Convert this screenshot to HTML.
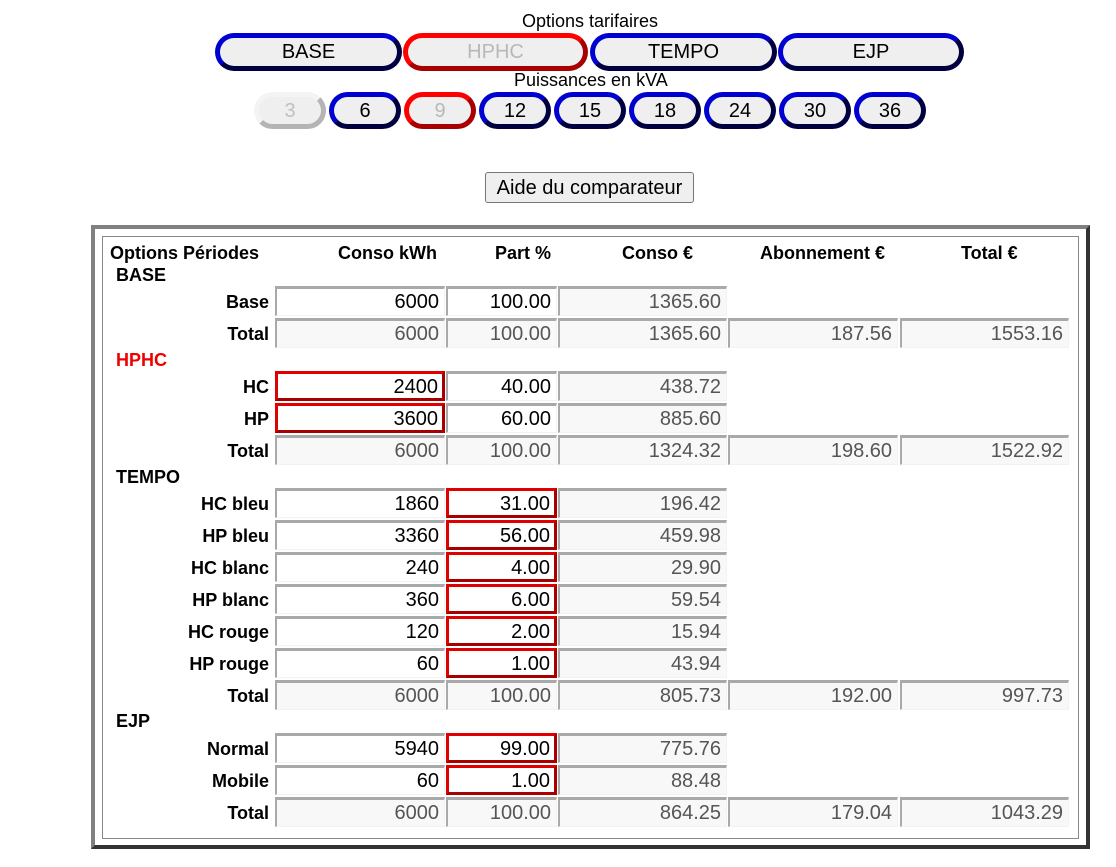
<!DOCTYPE html>
<html><head><meta charset="utf-8">
<style>
html,body{margin:0;padding:0;background:#fff;width:1116px;height:867px;overflow:hidden;position:relative;font-family:"Liberation Sans",Arial,sans-serif;}
.a{position:absolute;}
.lbl{position:absolute;font-size:18px;line-height:20px;color:#000;white-space:nowrap;}
.btn{position:absolute;box-sizing:border-box;background:#efefef;border:5px solid;border-color:#0000d0 #000040 #000040 #0000d0;border-radius:22px;font-size:20px;color:#000;text-align:center;white-space:nowrap;}
.b1{top:33px;height:38px;line-height:29px;}
.b2{top:92px;height:37px;line-height:28px;width:72px;}
.red{border-color:#ff0000 #a80000 #a80000 #ff0000;color:#b8b8b8;}
.dis{border-color:#f4f4f4 #b4b4b4 #b4b4b4 #f4f4f4;color:#c0c0c0;}
.h{position:absolute;font-weight:bold;font-size:18px;line-height:20px;white-space:nowrap;}
.rl{position:absolute;font-weight:bold;font-size:18px;line-height:20px;right:847px;text-align:right;white-space:nowrap;margin-top:1px;}
.in{position:absolute;box-sizing:border-box;height:30px;border-style:solid;border-width:3px 1px 1px 2px;border-color:#a9a9a9 #f2f2f2 #f2f2f2 #a9a9a9;background:#fff;color:#000;font-size:20px;line-height:27px;text-align:right;padding-right:5px;white-space:nowrap;}
.ro{background:#f8f8f8;color:#555;}
.rd{border-width:3px;border-color:#e00000 #a80000 #a80000 #e00000;line-height:26px;padding-right:4px;}
.c1{left:275px;width:170px;}
.c2{left:446px;width:111px;}
.c3{left:558px;width:169px;}
.c4{left:728px;width:170px;}
.c5{left:900px;width:169px;}
</style></head><body>

<div class="lbl" style="left:522px;top:11px;">Options tarifaires</div>
<div class="btn b1" style="left:215px;width:187px;">BASE</div>
<div class="btn b1 red" style="left:403px;width:185px;">HPHC</div>
<div class="btn b1" style="left:590px;width:187px;">TEMPO</div>
<div class="btn b1" style="left:778px;width:186px;">EJP</div>

<div class="lbl" style="left:514px;top:70px;">Puissances en kVA</div>
<div class="btn b2 dis" style="left:254px;">3</div>
<div class="btn b2" style="left:329px;">6</div>
<div class="btn b2 red" style="left:404px;">9</div>
<div class="btn b2" style="left:479px;">12</div>
<div class="btn b2" style="left:554px;">15</div>
<div class="btn b2" style="left:629px;">18</div>
<div class="btn b2" style="left:704px;">24</div>
<div class="btn b2" style="left:779px;">30</div>
<div class="btn b2" style="left:854px;">36</div>

<div class="a" style="left:485px;top:172px;width:209px;height:31px;box-sizing:border-box;border:1px solid #767676;border-radius:3px;background:#efefef;font-size:20px;line-height:30px;text-align:center;color:#000;">Aide du comparateur</div>

<div class="a" style="left:91px;top:225px;width:999px;height:624px;box-sizing:border-box;border-style:solid;border-width:4px;border-color:#808080 #333 #333 #808080;"></div>
<div class="a" style="left:102px;top:236px;width:977px;height:603px;box-sizing:border-box;border:1px solid #888;"></div>

<div class="h" style="left:110px;top:243px;">Options Périodes</div>
<div class="h" style="left:338px;top:243px;">Conso kWh</div>
<div class="h" style="left:495px;top:243px;">Part %</div>
<div class="h" style="left:622px;top:243px;">Conso €</div>
<div class="h" style="left:760px;top:243px;">Abonnement €</div>
<div class="h" style="left:961px;top:243px;">Total €</div>

<div class="h" style="left:116px;top:265px;">BASE</div>
<div class="h" style="left:116px;top:350px;color:#ee0000;">HPHC</div>
<div class="h" style="left:116px;top:467px;">TEMPO</div>
<div class="h" style="left:116px;top:711px;">EJP</div>

<!-- BASE -->
<div class="rl" style="top:291px;">Base</div>
<div class="in c1" style="top:286px;">6000</div>
<div class="in c2" style="top:286px;">100.00</div>
<div class="in c3 ro" style="top:286px;">1365.60</div>

<div class="rl" style="top:323px;">Total</div>
<div class="in c1 ro" style="top:318px;">6000</div>
<div class="in c2 ro" style="top:318px;">100.00</div>
<div class="in c3 ro" style="top:318px;">1365.60</div>
<div class="in c4 ro" style="top:318px;">187.56</div>
<div class="in c5 ro" style="top:318px;">1553.16</div>

<!-- HPHC -->
<div class="rl" style="top:376px;">HC</div>
<div class="in c1 rd" style="top:371px;">2400</div>
<div class="in c2" style="top:371px;">40.00</div>
<div class="in c3 ro" style="top:371px;">438.72</div>

<div class="rl" style="top:408px;">HP</div>
<div class="in c1 rd" style="top:403px;">3600</div>
<div class="in c2" style="top:403px;">60.00</div>
<div class="in c3 ro" style="top:403px;">885.60</div>

<div class="rl" style="top:440px;">Total</div>
<div class="in c1 ro" style="top:435px;">6000</div>
<div class="in c2 ro" style="top:435px;">100.00</div>
<div class="in c3 ro" style="top:435px;">1324.32</div>
<div class="in c4 ro" style="top:435px;">198.60</div>
<div class="in c5 ro" style="top:435px;">1522.92</div>

<!-- TEMPO -->
<div class="rl" style="top:493px;">HC bleu</div>
<div class="in c1" style="top:488px;">1860</div>
<div class="in c2 rd" style="top:488px;">31.00</div>
<div class="in c3 ro" style="top:488px;">196.42</div>

<div class="rl" style="top:525px;">HP bleu</div>
<div class="in c1" style="top:520px;">3360</div>
<div class="in c2 rd" style="top:520px;">56.00</div>
<div class="in c3 ro" style="top:520px;">459.98</div>

<div class="rl" style="top:557px;">HC blanc</div>
<div class="in c1" style="top:552px;">240</div>
<div class="in c2 rd" style="top:552px;">4.00</div>
<div class="in c3 ro" style="top:552px;">29.90</div>

<div class="rl" style="top:589px;">HP blanc</div>
<div class="in c1" style="top:584px;">360</div>
<div class="in c2 rd" style="top:584px;">6.00</div>
<div class="in c3 ro" style="top:584px;">59.54</div>

<div class="rl" style="top:621px;">HC rouge</div>
<div class="in c1" style="top:616px;">120</div>
<div class="in c2 rd" style="top:616px;">2.00</div>
<div class="in c3 ro" style="top:616px;">15.94</div>

<div class="rl" style="top:653px;">HP rouge</div>
<div class="in c1" style="top:648px;">60</div>
<div class="in c2 rd" style="top:648px;">1.00</div>
<div class="in c3 ro" style="top:648px;">43.94</div>

<div class="rl" style="top:685px;">Total</div>
<div class="in c1 ro" style="top:680px;">6000</div>
<div class="in c2 ro" style="top:680px;">100.00</div>
<div class="in c3 ro" style="top:680px;">805.73</div>
<div class="in c4 ro" style="top:680px;">192.00</div>
<div class="in c5 ro" style="top:680px;">997.73</div>

<!-- EJP -->
<div class="rl" style="top:738px;">Normal</div>
<div class="in c1" style="top:733px;">5940</div>
<div class="in c2 rd" style="top:733px;">99.00</div>
<div class="in c3 ro" style="top:733px;">775.76</div>

<div class="rl" style="top:770px;">Mobile</div>
<div class="in c1" style="top:765px;">60</div>
<div class="in c2 rd" style="top:765px;">1.00</div>
<div class="in c3 ro" style="top:765px;">88.48</div>

<div class="rl" style="top:802px;">Total</div>
<div class="in c1 ro" style="top:797px;">6000</div>
<div class="in c2 ro" style="top:797px;">100.00</div>
<div class="in c3 ro" style="top:797px;">864.25</div>
<div class="in c4 ro" style="top:797px;">179.04</div>
<div class="in c5 ro" style="top:797px;">1043.29</div>

</body></html>
